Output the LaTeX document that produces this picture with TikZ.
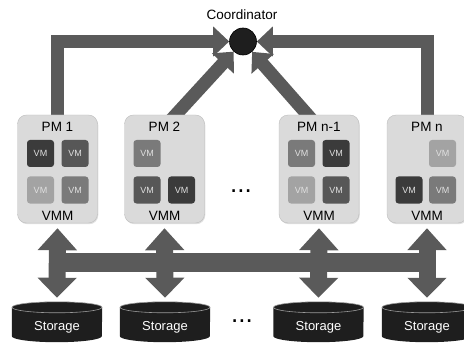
\documentclass[tikz,border=0pt]{standalone}
\usepackage{fontspec}
\setmainfont{Liberation Sans}
\usetikzlibrary{arrows.meta,calc,backgrounds,shadows}
\definecolor{arrowgray}{HTML}{5A5A5A}
\definecolor{boxfill}{HTML}{DADADA}
\definecolor{boxline}{HTML}{BDBDBD}
\definecolor{vmA}{HTML}{3B3B3B}
\definecolor{vmB}{HTML}{575757}
\definecolor{vmC}{HTML}{7A7A7A}
\definecolor{vmD}{HTML}{A3A3A3}
\definecolor{stfill}{HTML}{1E1E1E}
\definecolor{stline}{HTML}{9A9A9A}
\begin{document}
\begin{tikzpicture}[x=1pt,y=-1pt,
  pmbox/.style={draw=boxline, fill=boxfill, rounded corners=9pt, minimum width=80pt, minimum height=108pt, inner sep=0pt,
    drop shadow={shadow xshift=0.8pt, shadow yshift=-1.2pt, opacity=0.25}},
  pmtext/.style={font=\fontsize{13.5}{14}\selectfont, inner sep=0pt},
  vmbox/.style={rounded corners=3pt, minimum size=27pt, inner sep=0pt, text=white!88!black, font=\fontsize{9}{9}\selectfont},
  bigarrow/.style={draw=arrowgray, line width=13pt, -{Triangle[width=29pt,length=16pt]}},
  dblarrow/.style={draw=arrowgray, line width=17pt, {Triangle[width=38pt,length=22pt]}-{Triangle[width=38pt,length=20pt]}},
  stnode/.style={minimum width=90pt, minimum height=30pt, inner sep=0pt, text=white, font=\fontsize{13}{13}\selectfont},
  dots/.style={font=\fontsize{26}{26}\selectfont, inner sep=0pt}
]
\clip (0,0) rectangle (464,345);

% Coordinator
\node[font=\fontsize{13.5}{14}\selectfont, inner sep=0pt] (coordlabel) at (242,15) {Coordinator};
\node[circle, fill=stfill, draw=black, line width=0.6pt, minimum size=27pt, inner sep=0pt] (coord) at (243,41.5) {};

% PM boxes
\node[pmbox] (pm1) at (57.5,169) {};
\node[pmbox] (pm2) at (164.5,169) {};
\node[pmbox] (pm3) at (319,169) {};
\node[pmbox] (pm4) at (427,169) {};

\node[pmtext] (pm1t) at (57.5,127) {PM 1};
\node[pmtext] (pm2t) at (164.5,127) {PM 2};
\node[pmtext] (pm3t) at (319,127) {PM n-1};
\node[pmtext] (pm4t) at (427,127) {PM n};

\node[pmtext] (pm1v) at (57.5,216) {VMM};
\node[pmtext] (pm2v) at (164.5,216) {VMM};
\node[pmtext] (pm3v) at (319,216) {VMM};
\node[pmtext] (pm4v) at (427,216) {VMM};

% VMs PM1
\node[vmbox, fill=vmA] (vm11) at (40.5,153.5) {VM};
\node[vmbox, fill=vmB] (vm12) at (75,153.5) {VM};
\node[vmbox, fill=vmD] (vm13) at (40.5,190) {VM};
\node[vmbox, fill=vmC] (vm14) at (75,190) {VM};
% VMs PM2
\node[vmbox, fill=vmC] (vm21) at (147,153.5) {VM};
\node[vmbox, fill=vmB] (vm23) at (147,190) {VM};
\node[vmbox, fill=vmA] (vm24) at (181.5,190) {VM};
% VMs PM n-1
\node[vmbox, fill=vmC] (vm31) at (301.5,153.5) {VM};
\node[vmbox, fill=vmA] (vm32) at (336,153.5) {VM};
\node[vmbox, fill=vmD] (vm33) at (301.5,190) {VM};
\node[vmbox, fill=vmB] (vm34) at (336,190) {VM};
% VMs PM n
\node[vmbox, fill=vmD] (vm42) at (442.5,153.5) {VM};
\node[vmbox, fill=vmA] (vm43) at (409,190) {VM};
\node[vmbox, fill=vmC] (vm44) at (442.5,190) {VM};

% dots
\node[dots] (dotsA) at (241,191) {...};
\node[dots] (dotsB) at (242,321) {...};

% Storage nodes
\node[stnode] (st1) at (57,327) {Storage};
\node[stnode] (st2) at (165,327) {Storage};
\node[stnode] (st3) at (318.5,327) {Storage};
\node[stnode] (st4) at (427,327) {Storage};

\coordinate (busL) at (57.5,262.5);
\coordinate (busR) at (427,262.5);
\coordinate (d1) at (170,121);
\coordinate (d2) at (313,121);

\begin{scope}[on background layer]
  % storage cylinders
  \foreach \s in {st1,st2,st3,st4}{
    \fill[stfill] ($(\s.north west)+(0,-4.5)$) -- ($(\s.south west)+(0,-6)$)
      arc[start angle=180, end angle=0, x radius=45, y radius=6]
      -- ($(\s.north east)+(0,-4.5)$) -- cycle;
    \draw[fill=stfill, draw=stline, line width=0.6pt] ($(\s.north)+(0,-4.5)$) ellipse [x radius=45, y radius=5.5];
  }
  % top arrows
  \draw[bigarrow] (pm1.north) |- (coord.west);
  \draw[bigarrow] (pm4.north) |- (coord.east);
  \draw[bigarrow] (d1) -- (coord);
  \draw[bigarrow] (d2) -- (coord);
  % bus
  \draw[arrowgray, line width=19pt] (busL) -- (busR);
  \draw[dblarrow] ($(pm1.south)+(0,5)$) -- ($(st1.north)+(0,-14)$);
  \draw[dblarrow] ($(pm2.south)+(0,5)$) -- ($(st2.north)+(0,-14)$);
  \draw[dblarrow] ($(pm3.south)+(0,5)$) -- ($(st3.north)+(0,-14)$);
  \draw[dblarrow] ($(pm4.south)+(0,5)$) -- ($(st4.north)+(0,-14)$);
\end{scope}
\end{tikzpicture}
\end{document}
